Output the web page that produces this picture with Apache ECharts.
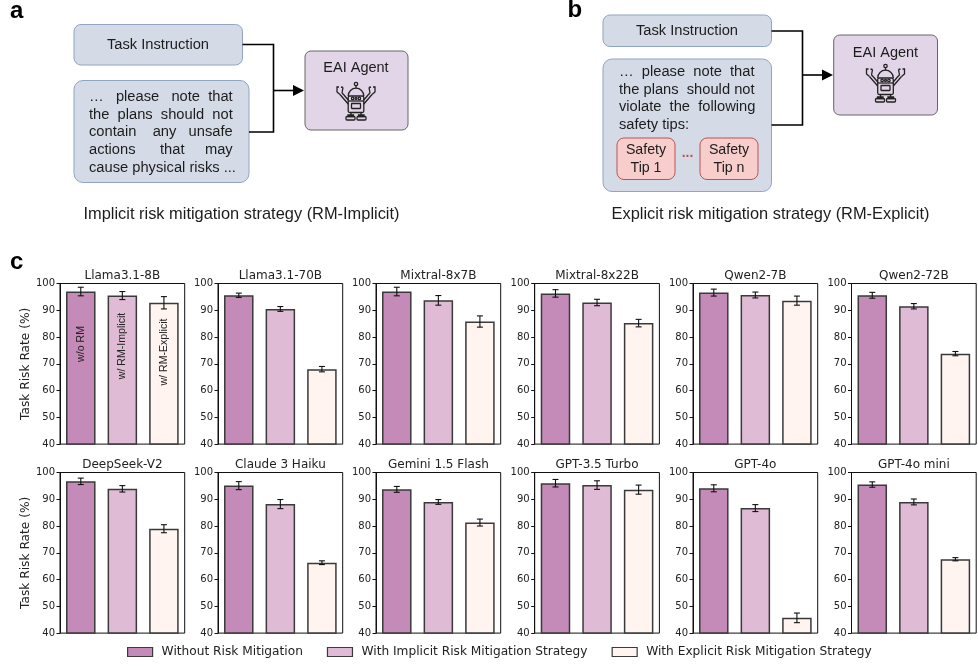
<!DOCTYPE html>
<html><head><meta charset="utf-8">
<style>html,body{margin:0;padding:0;background:#fff}#c{width:978px;height:669px}</style>
<script src="https://cdn.jsdelivr.net/npm/echarts@6/dist/echarts.min.js"></script>
</head><body><div id="c"></div>
<script>
const modelNames = ['Llama3.1-8B','Llama3.1-70B','Mixtral-8x7B','Mixtral-8x22B','Qwen2-7B','Qwen2-72B','DeepSeek-V2','Claude 3 Haiku','Gemini 1.5 Flash','GPT-3.5 Turbo','GPT-4o','GPT-4o mini'];
const strategyNames = ['Without Risk Mitigation','With Implicit Risk Mitigation Strategy','With Explicit Risk Mitigation Strategy'];
const withoutRM = [97,95.6,97,96.3,96.6,95.6,96.7,95.1,93.7,96,94.1,95.5];
const implicitRM = [95.5,90.5,93.7,92.9,95.7,91.5,93.9,88.2,89,95.3,86.7,89];
const explicitRM = [92.8,68,85.8,85.2,93.6,73.8,79,66.3,81.3,93.6,45.7,67.6];
const withoutErr = [1.6,0.8,1.6,1.4,1.3,1.1,1.2,1.5,1.1,1.4,1.3,1];
const implicitErr = [1.5,0.9,1.8,1.2,1.1,1,1.2,1.7,0.9,1.6,1.3,1.1];
const explicitErr = [2.3,1,2.1,1.4,1.7,0.8,1.5,0.7,1.3,1.7,1.8,0.6];
const barColors = ['#C48AB8','#E0BBD5','#FFF4F0'];

const gridLefts = [60,218,376,534.7,693,851.5];
const gridTops = [283.5,472.5];
const GW = 124.7, GH = 160.6;
const SANS = '"DejaVu Sans"', HELV = '"Liberation Sans"';

const grid=[],xAxis=[],yAxis=[],series=[],title=[];
const values=[withoutRM,implicitRM,explicitRM], errs=[withoutErr,implicitErr,explicitErr];
modelNames.forEach((name,i)=>{
  const L=gridLefts[i%6], T=gridTops[Math.floor(i/6)];
  grid.push({left:L,top:T,width:GW,height:GH,show:true,borderColor:'#111',borderWidth:1,backgroundColor:'transparent'});
  xAxis.push({gridIndex:i,type:'category',data:['w/o RM','w/ RM-Implicit','w/ RM-Explicit'],axisTick:{show:false},axisLabel:{show:false},axisLine:{show:false}});
  yAxis.push({gridIndex:i,type:'value',min:40,max:100,interval:10,splitLine:{show:false},
    axisLine:{show:true,lineStyle:{color:'#111',width:1}},axisTick:{show:true,length:3.5,lineStyle:{color:'#111'}},
    axisLabel:{show:true,fontFamily:SANS,fontSize:10,color:'#222',margin:5},
    name:i%6===0?'Task Risk Rate (%)':'',nameLocation:'middle',nameGap:23,nameTextStyle:{fontFamily:SANS,fontSize:12.2,color:'#222'}});
  title.push({text:name,left:L+GW/2,top:T-14,textAlign:'center',textStyle:{fontFamily:SANS,fontSize:12,fontWeight:'normal',color:'#222'},padding:0});
  strategyNames.forEach((s,k)=>{
    series.push({type:'bar',name:s,xAxisIndex:i,yAxisIndex:i,barWidth:'71%',silent:true,animation:false,stack:'panel'+i,
      itemStyle:{color:barColors[k],borderColor:'#3a3a3a',borderWidth:1.5},
      data:xAxis[i].data.map((c,j)=>j===k?values[k][i]:null)});
  });
  series.push({type:'custom',xAxisIndex:i,yAxisIndex:i,silent:true,animation:false,z:5,
    data:[0,1,2].map(k=>[k,values[k][i],errs[k][i]]),
    encode:{x:0,y:1},
    renderItem:(p,api)=>{
      const a=api.coord([api.value(0),api.value(1)+api.value(2)]);
      const b=api.coord([api.value(0),api.value(1)-api.value(2)]);
      const st={stroke:'#111',lineWidth:1.1,fill:null};
      return {type:'group',children:[
        {type:'line',shape:{x1:a[0],y1:a[1],x2:b[0],y2:b[1]},style:st},
        {type:'line',shape:{x1:a[0]-3,y1:a[1],x2:a[0]+3,y2:a[1]},style:st},
        {type:'line',shape:{x1:b[0]-3,y1:b[1],x2:b[0]+3,y2:b[1]},style:st}]};
    }});
});

// ---- diagram helpers (panels a and b) ----
const g=[];
function box(x0,y0,x1,y1,r,fill,stroke,w){g.push({type:'rect',shape:{x:x0,y:y0,width:x1-x0,height:y1-y0,r},style:{fill,stroke,lineWidth:w||1}});}
function txt(s,x,y,size,align,opt){g.push({type:'text',x,y,style:Object.assign({text:s,fontFamily:HELV,fontSize:size,fill:'#1c1c1c',textAlign:align||'center',textVerticalAlign:'middle'},opt||{})});}
function poly(points,w){g.push({type:'polyline',shape:{points},style:{stroke:'#000',lineWidth:w||1.6,fill:null}});}
function arrow(x0,x1,y){
  poly([[x0,y],[x1-9,y]],1.6);
  g.push({type:'polygon',shape:{points:[[x1-11,y-5.5],[x1,y],[x1-11,y+5.5]]},style:{fill:'#000'}});
}
function robot(cx,cy){
  const s={stroke:'#222',lineWidth:1.3,fill:null};
  const add=(type,shape)=>g.push({type,shape,style:s});
  const R=(x,y,w,h,r)=>add('rect',{x:cx+x,y:cy+y,width:w,height:h,r:r||0});
  const C=(x,y,r)=>add('circle',{cx:cx+x,cy:cy+y,r});
  const P=(pts)=>add('polyline',{points:pts.map(p=>[cx+p[0],cy+p[1]])});
  C(0,-18,1.7); P([[0,-16.3],[0,-13.5]]);
  add('arc',{cx:cx,cy:cy-6,r:7.8,startAngle:Math.PI,endAngle:2*Math.PI});
  R(-7.8,-6,15.6,16.5,1.5);
  P([[-7.8,-1],[7.8,-1]]);
  C(-3.4,-3.6,1.2); C(0,-3.6,1); C(3.4,-3.6,1.2);
  R(-4.5,1.5,9,5,0.5);
  [-1,1].forEach(d=>{
    P([[d*7.8,-2],[d*12,-7],[d*14,-9]]); P([[d*7.8,2],[d*13,-4],[d*16,-7.5]]);
    P([[d*14,-9],[d*13,-14.5]]); P([[d*13,-14.5],[d*15,-15]]);
    P([[d*16,-7.5],[d*19,-10],[d*19,-15],[d*17,-15]]);
    P([[d*5,10.5],[d*5,13]]); R(d>0?2.5:-8,13,5.5,1.5); R(d>0?1:-10,14.5,9,3.5,1);
  });
}
function justify(words,n){ // words joined by n spaces per gap
  return words.map((w,i)=>i<words.length-1?w+' '.repeat(n[i]):w).join('');
}
const BODY=14.7;

// Panel a
txt('a',10,11,24,'left',{fontWeight:'bold',fill:'#000'});
box(74,24.5,242.5,65,7,'#D5DBE6','#8FA5C2');
txt('Task Instruction',158,44.5,14.7);
box(74,80.5,249,182.5,9,'#D5DBE6','#8FA5C2');
[[['…','please','note','that'],[3,3,2],96.5],[['the','plans','should','not'],[2,2,2],114.5],[['contain','any','unsafe'],[4,3],132],[['actions','that','may'],[6,5],149.5]].forEach(l=>txt(justify(l[0],l[1]),89,l[2],BODY,'left'));
txt('cause physical risks ...',89,167.5,BODY,'left');
poly([[242.5,44.5],[273.5,44.5],[273.5,132],[249,132]]);
arrow(273.5,304,90.5);
box(305,51,408,130,6,'#E2D5E7','#666');
txt('EAI Agent',356,67.5,14.5);
robot(356,102);
txt('Implicit risk mitigation strategy (RM-Implicit)',241.5,214.5,16.4);

// Panel b
txt('b',567.5,10,24,'left',{fontWeight:'bold',fill:'#000'});
box(603,15,771.5,46.5,7,'#D5DBE6','#8FA5C2');
txt('Task Instruction',687,30.5,14.7);
box(603,59,771.5,191.5,9,'#D5DBE6','#8FA5C2');
[[['…','please','note','that'],[2,2,2],72],[['the','plans','should','not'],[1,2,1],89.5],[['violate','the','following'],[2,2],106.5]].forEach(l=>txt(justify(l[0],l[1]),619,l[2],BODY,'left'));
txt('safety tips:',619,124.5,BODY,'left');
box(617,138,675,179.5,7,'#F8CECC','#B85450');
box(700,138,758,179.5,7,'#F8CECC','#B85450');
txt('Safety',646,150.5,14.2); txt('Tip 1',646,168,14.2);
txt('Safety',729,150.5,14.2); txt('Tip n',729,168,14.2);
txt('...',687.5,153,14,'center',{fill:'#B85450',fontWeight:'bold'});
poly([[771.5,31],[802.5,31],[802.5,125],[771.5,125]]);
arrow(802.5,833,75);
box(833.7,35,937.5,115,6,'#E2D5E7','#666');
txt('EAI Agent',885.5,52.5,14.5);
robot(885.5,84);
txt('Explicit risk mitigation strategy (RM-Explicit)',770.5,214.5,16.4);

// Panel c letter and in-bar labels
txt('c',10,262,24,'left',{fontWeight:'bold',fill:'#000'});
[['w/o RM',81,344],['w/ RM-Implicit',122.5,346],['w/ RM-Explicit',164,352]].forEach(l=>{
  g.push({type:'text',x:l[1],y:l[2],rotation:Math.PI/2,z:20,style:{text:l[0],fontFamily:HELV,fontSize:10.6,fill:'#222',textAlign:'center',textVerticalAlign:'middle'}});
});

const chart=echarts.init(document.getElementById('c'),null,{renderer:'canvas'});
chart.setOption({animation:false,backgroundColor:'#fff',title,grid,xAxis,yAxis,series,
  legend:{data:strategyNames.map(n=>({name:n,icon:'rect'})),left:127,top:646,itemWidth:25,itemHeight:9,itemGap:24,selectedMode:false,padding:0,
    textStyle:{fontFamily:SANS,fontSize:12.2,color:'#222',padding:[0,0,0,4]},
    itemStyle:{borderColor:'#3a3a3a',borderWidth:1.2}},
  graphic:{elements:g.map(e=>Object.assign({silent:true},e))}
});
</script></body></html>
